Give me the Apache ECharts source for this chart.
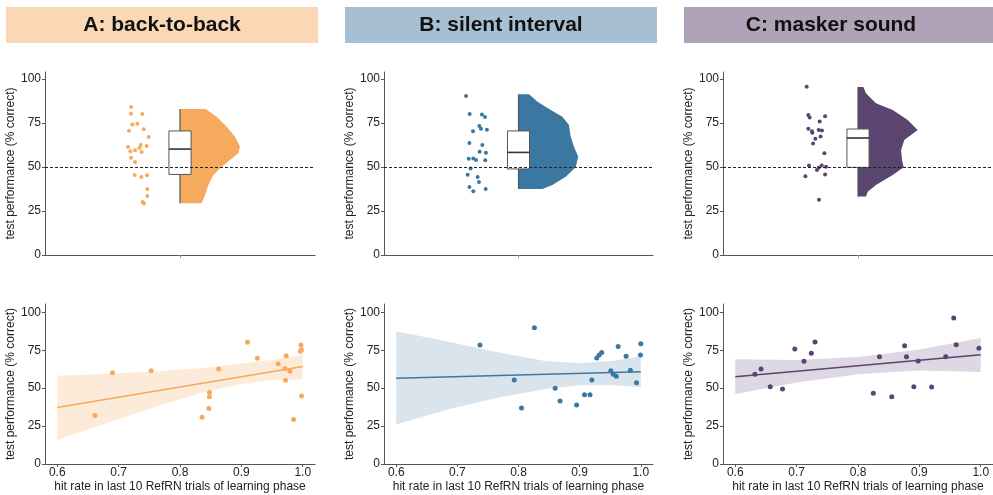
<!DOCTYPE html>
<html>
<head>
<meta charset="utf-8">
<script src="https://cdn.jsdelivr.net/npm/echarts@6/dist/echarts.min.js"></script>
<style>
  html, body { margin: 0; padding: 0; background: #fff; }
  #chart { width: 993px; height: 495px; }
</style>
</head>
<body>
<div id="chart"></div>
<script>
// panel titles and colours
var titles = ['A: back-to-back', 'B: silent interval', 'C: masker sound'];
var headerColors = ['#FAD8B5', '#A7BFD2', '#B0A3B8'];
var mainColors = ['#F5AA5E', '#3B78A1', '#5A4470'];
var bandColors = ['#FDEBDA', '#DAE4ED', '#DED7E4'];

var yTicks = [0, 25, 50, 75, 100];
var xTicks = [0.6, 0.7, 0.8, 0.9, 1.0];
var chanceLevel = 50;

// raincloud: jittered points [offset, % correct]
var rainA = [[-0.363, 84.1], [-0.363, 80.3], [-0.279, 80.1], [-0.353, 74.1], [-0.316, 74.6], [-0.378, 70.6],
  [-0.269, 71.4], [-0.232, 67.0], [-0.385, 61.4], [-0.291, 62.5], [-0.247, 61.9], [-0.368, 58.9],
  [-0.333, 59.5], [-0.301, 60.8], [-0.284, 58.5], [-0.363, 55.3], [-0.333, 52.8], [-0.336, 45.5],
  [-0.286, 44.3], [-0.244, 45.3], [-0.242, 37.5], [-0.242, 33.5], [-0.277, 30.1], [-0.267, 29.2]];
var rainB = [[-0.390, 90.3], [-0.363, 80.1], [-0.272, 79.9], [-0.249, 78.4], [-0.291, 73.3], [-0.279, 71.8],
  [-0.235, 71.2], [-0.338, 70.3], [-0.365, 63.6], [-0.269, 62.5], [-0.289, 58.7], [-0.242, 58.1],
  [-0.370, 54.7], [-0.336, 54.9], [-0.316, 54.0], [-0.247, 53.8], [-0.356, 49.2], [-0.378, 45.6],
  [-0.304, 44.3], [-0.294, 41.5], [-0.365, 38.6], [-0.244, 37.5], [-0.336, 36.2]];
var rainC = [[-0.380, 95.6], [-0.368, 79.5], [-0.244, 78.8], [-0.358, 78.2], [-0.284, 75.9], [-0.368, 71.8],
  [-0.341, 70.3], [-0.338, 69.5], [-0.291, 71.0], [-0.267, 70.8], [-0.316, 66.1], [-0.277, 67.4],
  [-0.333, 63.3], [-0.249, 57.8], [-0.363, 50.8], [-0.269, 50.8], [-0.237, 50.2], [-0.291, 49.6],
  [-0.304, 48.3], [-0.390, 44.7], [-0.244, 45.8], [-0.289, 31.4]];

// box: q1, median, q3
var boxA = [45.8, 60.2, 70.5];
var boxB = [48.9, 58.3, 70.5];
var boxC = [49.8, 66.5, 71.6];

// half violin: [% correct, half width], top to bottom
var violinA = [[83.0, 0.190], [78.6, 0.272], [72.9, 0.346], [67.2, 0.407], [61.6, 0.444], [57.8, 0.432],
  [54.0, 0.370], [49.2, 0.296], [45.5, 0.247], [39.8, 0.210], [35.0, 0.190], [29.4, 0.160]];
var violinB = [[91.3, 0.079], [87.1, 0.141], [82.4, 0.240], [78.6, 0.326], [73.9, 0.375], [67.2, 0.388],
  [61.6, 0.412], [55.9, 0.444], [49.8, 0.425], [44.5, 0.351], [39.8, 0.252], [37.5, 0.178]];
var violinC = [[95.5, 0.040], [91.9, 0.059], [86.2, 0.133], [82.4, 0.257], [76.7, 0.368], [71.0, 0.442],
  [65.3, 0.343], [59.7, 0.319], [54.0, 0.326], [49.8, 0.338], [45.5, 0.257], [39.8, 0.133],
  [36.0, 0.072], [33.3, 0.059]];

// scatter: [hit rate, % correct]
var hitA = [[0.6615, 31.9], [0.690, 60.1], [0.753, 61.5], [0.863, 62.6], [0.848, 47.1], [0.848, 44.3],
  [0.847, 36.6], [0.836, 30.8], [0.910, 80.2], [0.926, 69.8], [0.960, 66.1], [0.973, 71.4],
  [0.971, 63.0], [0.979, 61.2], [0.972, 55.3], [0.985, 29.3], [0.997, 78.4], [0.996, 74.4],
  [0.998, 75.3], [0.998, 44.9]];
var hitB = [[0.737, 78.5], [0.793, 55.4], [0.805, 36.9], [0.826, 89.9], [0.860, 49.9], [0.868, 41.5],
  [0.895, 38.9], [0.908, 45.7], [0.917, 45.7], [0.920, 55.4], [0.928, 69.9], [0.932, 71.9],
  [0.936, 73.6], [0.951, 61.5], [0.955, 59.1], [0.960, 57.8], [0.963, 77.4], [0.976, 71.0],
  [0.983, 61.8], [0.993, 53.6], [1.0, 79.3], [0.9995, 71.9]];
var hitC = [[0.632, 59.1], [0.642, 62.6], [0.657, 51.0], [0.677, 49.5], [0.697, 75.8], [0.712, 67.7],
  [0.724, 73.0], [0.730, 80.4], [0.825, 46.6], [0.835, 70.8], [0.855, 44.4], [0.876, 78.0],
  [0.879, 70.8], [0.891, 51.0], [0.898, 67.9], [0.920, 50.8], [0.943, 70.8], [0.956, 96.3],
  [0.960, 78.7], [0.997, 76.3]];

// regression lines
var fitX = [0.6, 1.0];
var fitA = [37.2, 64.3];
var fitB = [56.5, 60.9];
var fitC = [57.6, 72.1];

// confidence bands
var bandXA = [0.6, 0.68, 0.762, 0.843, 0.898, 0.952, 1.0];
var upperA = [58.2, 59.5, 61.2, 63.4, 66.1, 68.8, 72.0];
var lowerA = [15.9, 26.9, 37.9, 47.8, 52.6, 55.6, 55.7];
var bandXB = [0.6, 0.682, 0.764, 0.846, 0.9, 0.955, 1.0];
var upperB = [87.5, 80.9, 73.8, 67.7, 66.6, 68.1, 71.0];
var lowerB = [26.0, 35.8, 43.5, 49.7, 51.9, 51.9, 50.6];
var bandXC = [0.6, 0.7, 0.8, 0.9, 1.0];
var upperC = [69.0, 68.6, 70.5, 75.5, 83.1];
var lowerC = [46.2, 53.8, 59.2, 61.6, 60.7];

(function () {
  var rains = [rainA, rainB, rainC];
  var boxes = [boxA, boxB, boxC];
  var violins = [violinA, violinB, violinC];
  var hits = [hitA, hitB, hitC];
  var fits = [fitA, fitB, fitC];
  var bandXs = [bandXA, bandXB, bandXC];
  var uppers = [upperA, upperB, upperC];
  var lowers = [lowerA, lowerB, lowerC];

  var chart = echarts.init(document.getElementById('chart'), null, { renderer: 'canvas' });

  var font = 'Liberation Sans, Arial, sans-serif';
  var axisColor = '#555';
  var textColor = '#222';
  var boxHalf = 0.082;
  var panelLeft = [45, 384, 723];
  var panelWidth = [270, 269, 270];

  var grids = [], xAxes = [], yAxes = [], series = [], graphics = [];

  function yAxisFor(gi, max) {
    return {
      type: 'value', gridIndex: gi, min: 0, max: max,
      name: 'test performance (% correct)', nameLocation: 'middle', nameGap: 26,
      nameTextStyle: { fontFamily: font, fontSize: 12, color: textColor },
      axisLine: { show: true, onZero: false, lineStyle: { color: axisColor } },
      axisTick: { show: true, length: 3, customValues: yTicks, lineStyle: { color: axisColor } },
      axisLabel: { customValues: yTicks, margin: 4, fontFamily: font, fontSize: 12, color: textColor },
      splitLine: { show: false }
    };
  }

  function addPanel(i) {
    var ti = i, bi = i + 3;
    var violin = violins[i], box = boxes[i];
    var bx = bandXs[i], up = uppers[i], lo = lowers[i];

    grids[ti] = { left: panelLeft[i], top: 72, width: panelWidth[i], height: 183 };
    grids[bi] = { left: panelLeft[i], top: 304, width: panelWidth[i], height: 160 };

    xAxes[ti] = {
      type: 'value', gridIndex: ti, min: -1, max: 1,
      axisLine: { show: true, onZero: false, lineStyle: { color: axisColor } },
      axisTick: { show: true, length: 3, customValues: [0], lineStyle: { color: '#999' } },
      axisLabel: { show: false }, splitLine: { show: false }
    };
    yAxes[ti] = yAxisFor(ti, 104);

    xAxes[bi] = {
      type: 'value', gridIndex: bi, min: 0.58, max: 1.02,
      name: 'hit rate in last 10 RefRN trials of learning phase', nameLocation: 'middle', nameGap: 17,
      nameTextStyle: { fontFamily: font, fontSize: 12, color: textColor },
      axisLine: { show: true, onZero: false, lineStyle: { color: axisColor } },
      axisTick: { show: true, length: 3, customValues: xTicks, lineStyle: { color: axisColor } },
      axisLabel: {
        customValues: xTicks, margin: 3, fontFamily: font, fontSize: 12, color: textColor,
        formatter: function (v) { return Number(v).toFixed(1); }
      },
      splitLine: { show: false }
    };
    yAxes[bi] = yAxisFor(bi, 105.5);

    // half violin
    series.push({
      type: 'custom', xAxisIndex: ti, yAxisIndex: ti, z: 1, silent: true, data: [0],
      renderItem: function (params, api) {
        var pts = [api.coord([0, violin[0][0]])];
        violin.forEach(function (p) { pts.push(api.coord([p[1], p[0]])); });
        pts.push(api.coord([0, violin[violin.length - 1][0]]));
        return { type: 'polygon', shape: { points: pts }, style: { fill: mainColors[i] } };
      }
    });

    // whisker along the violin edge + box
    series.push({
      type: 'custom', xAxisIndex: ti, yAxisIndex: ti, z: 3, silent: true, data: [0],
      renderItem: function (params, api) {
        var w1 = api.coord([0, violin[0][0]]), w2 = api.coord([0, violin[violin.length - 1][0]]);
        var tl = api.coord([-boxHalf, box[2]]), br = api.coord([boxHalf, box[0]]);
        var m1 = api.coord([-boxHalf, box[1]]), m2 = api.coord([boxHalf, box[1]]);
        return {
          type: 'group', children: [
            { type: 'line', shape: { x1: w1[0], y1: w1[1], x2: w2[0], y2: w2[1] }, style: { stroke: '#555', lineWidth: 1.2 } },
            { type: 'rect', shape: { x: tl[0], y: tl[1], width: br[0] - tl[0], height: br[1] - tl[1] },
              style: { fill: '#fff', stroke: '#555', lineWidth: 1 } },
            { type: 'line', shape: { x1: m1[0], y1: m1[1], x2: m2[0], y2: m2[1] }, style: { stroke: '#333', lineWidth: 1.6 } }
          ]
        };
      }
    });

    // jittered points + chance line
    series.push({
      type: 'scatter', xAxisIndex: ti, yAxisIndex: ti, z: 4, silent: true,
      symbolSize: 4, itemStyle: { color: mainColors[i], opacity: 1 },
      data: rains[i],
      markLine: {
        silent: true, symbol: 'none', label: { show: false },
        lineStyle: { color: '#222', type: [3, 2], width: 1 },
        data: [{ yAxis: chanceLevel }]
      }
    });

    // confidence band
    series.push({
      type: 'custom', xAxisIndex: bi, yAxisIndex: bi, z: 1, silent: true, data: [0],
      renderItem: function (params, api) {
        var pts = [];
        for (var k = 0; k < bx.length; k++) pts.push(api.coord([bx[k], up[k]]));
        for (var k2 = bx.length - 1; k2 >= 0; k2--) pts.push(api.coord([bx[k2], lo[k2]]));
        return { type: 'polygon', shape: { points: pts }, style: { fill: bandColors[i] } };
      }
    });

    // regression line
    series.push({
      type: 'line', xAxisIndex: bi, yAxisIndex: bi, z: 2, silent: true,
      showSymbol: false, lineStyle: { color: mainColors[i], width: 1.5 },
      data: fitX.map(function (x, k) { return [x, fits[i][k]]; })
    });

    // participants
    series.push({
      type: 'scatter', xAxisIndex: bi, yAxisIndex: bi, z: 3, silent: true,
      symbolSize: 5, itemStyle: { color: mainColors[i], opacity: 1 },
      data: hits[i]
    });
  }

  for (var i = 0; i < 3; i++) addPanel(i);

  // coloured header boxes
  var headerBox = [[6, 312], [345, 312], [684, 309]];
  var headerTextX = [162, 501, 831];
  for (var h = 0; h < 3; h++) {
    graphics.push({
      type: 'rect', left: headerBox[h][0], top: 7, shape: { width: headerBox[h][1], height: 36 },
      style: { fill: headerColors[h] }, silent: true
    });
    graphics.push({
      type: 'text', x: headerTextX[h], y: 25,
      style: {
        text: titles[h], fill: '#111', font: 'bold 21px Liberation Sans, Arial, sans-serif',
        align: 'center', verticalAlign: 'middle'
      },
      silent: true
    });
  }

  chart.setOption({
    animation: false,
    backgroundColor: '#fff',
    grid: grids,
    xAxis: xAxes,
    yAxis: yAxes,
    series: series,
    graphic: graphics
  });
})();
</script>
</body>
</html>
